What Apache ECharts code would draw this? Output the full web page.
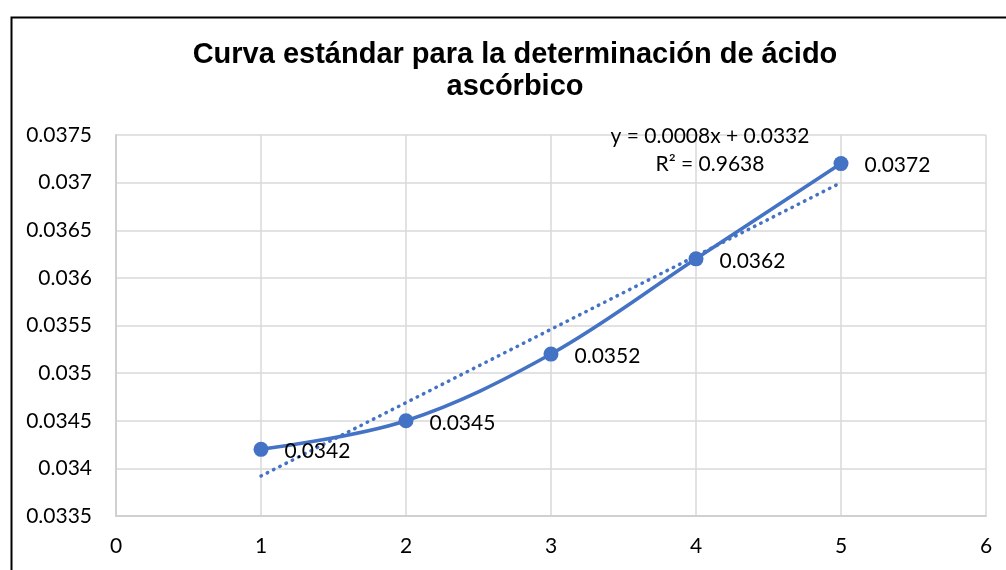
<!DOCTYPE html>
<html>
<head>
<meta charset="utf-8">
<script src="https://cdn.jsdelivr.net/npm/echarts@6/dist/echarts.min.js"></script>
<style>
  html, body { margin: 0; padding: 0; background: #fff; }
  #main { width: 1006px; height: 570px; }
</style>
</head>
<body>
<div id="main"></div>
<script>
// datos de la curva estándar
const concentraciones = [1, 2, 3, 4, 5];
const absorbancias = [0.0342, 0.0345, 0.0352, 0.0362, 0.0372];
const ecuacionTexto = ['y = 0.0008x + 0.0332', 'R² = 0.9638'];

// línea de tendencia por mínimos cuadrados
const n = concentraciones.length;
const mx = concentraciones.reduce((a, b) => a + b, 0) / n;
const my = absorbancias.reduce((a, b) => a + b, 0) / n;
let sxy = 0, sxx = 0;
for (let i = 0; i < n; i++) {
  sxy += (concentraciones[i] - mx) * (absorbancias[i] - my);
  sxx += (concentraciones[i] - mx) ** 2;
}
const pendiente = sxy / sxx;
const intercepto = my - pendiente * mx;
const xMin = concentraciones[0], xMax = concentraciones[n - 1];
const tendencia = [
  [xMin, intercepto + pendiente * xMin],
  [xMax, intercepto + pendiente * xMax]
];

const azul = '#4472C4';
const fuente = 'Lato';

const myChart = echarts.init(document.getElementById('main'));
myChart.setOption({
  animation: false,
  backgroundColor: '#fff',
  graphic: [
    {
      type: 'rect', left: 9, top: 15, z: 100,
      shape: { width: 1010, height: 600 },
      style: { fill: 'none', stroke: '#000', lineWidth: 2 }
    },
    {
      type: 'text', x: 515, y: 39, z: 100,
      style: {
        text: 'Curva estándar para la determinación de ácido\nascórbico',
        font: 'bold 29px "Liberation Sans", Arial, sans-serif',
        fill: '#000', align: 'center', verticalAlign: 'top', lineHeight: 32
      }
    },
    {
      type: 'text', x: 710, y: 122, z: 100,
      style: {
        text: ecuacionTexto.join('\n'),
        font: '21px ' + fuente, fill: '#000',
        align: 'center', verticalAlign: 'top', lineHeight: 28
      }
    }
  ],
  grid: { left: 116, right: 20, top: 135, bottom: 54 },
  xAxis: {
    type: 'value', min: 0, max: 6, interval: 1,
    axisLine: { lineStyle: { color: '#d0d0d0', width: 2 } },
    axisTick: { show: false },
    splitLine: { lineStyle: { color: '#d9d9d9', width: 1.5 } },
    axisLabel: { color: '#000', fontSize: 21, fontFamily: fuente, margin: 20 }
  },
  yAxis: {
    type: 'value', min: 0.0335, max: 0.0375, interval: 0.0005,
    axisLine: { show: true, lineStyle: { color: '#d0d0d0', width: 2 } },
    axisTick: { show: false },
    splitLine: { lineStyle: { color: '#d9d9d9', width: 1.5 } },
    axisLabel: {
      color: '#000', fontSize: 21, fontFamily: fuente, margin: 24,
      formatter: v => String(+v.toFixed(4))
    }
  },
  series: [
    {
      type: 'line',
      data: tendencia,
      showSymbol: false,
      z: 2,
      lineStyle: { color: azul, width: 3.5, type: [0.5, 6.5], cap: 'round' }
    },
    {
      type: 'line',
      data: concentraciones.map((x, i) => [x, absorbancias[i]]),
      smooth: 0.35,
      z: 3,
      symbol: 'circle',
      symbolSize: 15,
      itemStyle: { color: azul },
      lineStyle: { color: azul, width: 3.5 },
      label: {
        show: true, position: 'right', distance: 16,
        color: '#000', fontSize: 21, fontFamily: fuente,
        formatter: p => String(p.value[1]),
        offset: [0, 2]
      }
    }
  ]
});
</script>
</body>
</html>
